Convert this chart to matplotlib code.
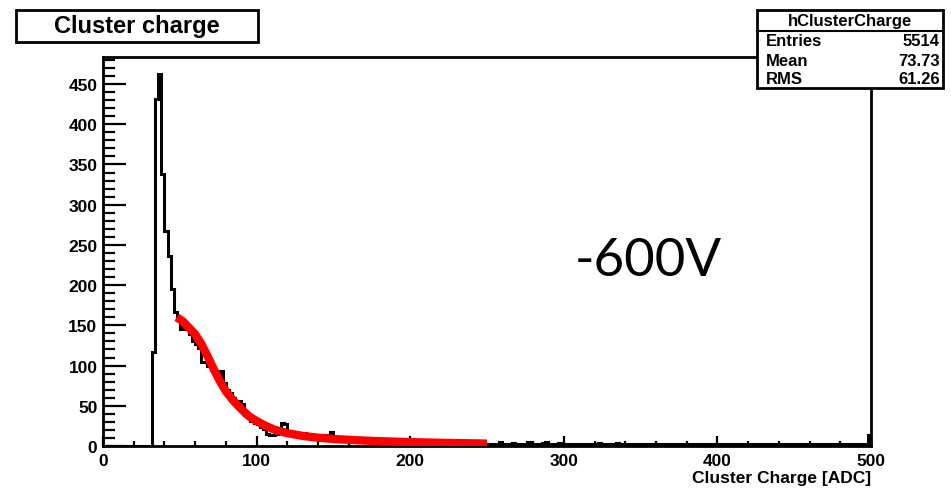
import numpy as np
import matplotlib.pyplot as plt
from matplotlib.patches import Rectangle
from matplotlib.lines import Line2D
from matplotlib.ticker import MultipleLocator

# histogram hClusterCharge: 250 bins of width 2 from 0 to 500
bin_edges = np.arange(0, 502, 2)
counts_low = [0] * 16  # 0 - 30
counts_peak = [117, 432, 462, 338, 267, 236, 195, 166, 158]  # 32 - 48
counts_mid = [146, 150, 146, 139, 131, 127, 122, 105, 104, 99,
              95, 88, 86, 93, 78, 70, 66, 60, 54, 56,
              52, 38, 36, 31, 29, 27, 24, 21, 15, 14,
              14, 15, 19, 28, 27, 16, 15, 17, 16, 15,
              16, 14, 15, 12, 11, 14, 13, 14, 13, 18, 9]  # 50 - 150
counts_tail1 = [8, 9, 7, 8, 7, 7, 6, 7, 6, 6,
                7, 5, 6, 5, 6, 5, 5, 6, 4, 5,
                5, 4, 5, 4, 5, 4, 4, 5, 3, 4,
                4, 3, 4, 4, 3, 4, 3, 3, 4, 3,
                3, 2, 3, 3, 2, 3, 3, 2, 3]  # 152 - 248
counts_tail2 = [3, 2, 3, 2, 5, 3, 2, 2, 4, 3,
                2, 2, 3, 5, 2, 3, 3, 2, 4, 5,
                3, 2, 2, 4, 3, 2, 3, 2, 3, 2,
                2, 2, 3, 2, 2, 2, 4, 3, 2, 2,
                2, 3, 4, 3, 2, 2, 2, 2, 3, 2,
                2, 1, 2, 2, 2, 3, 2, 2, 2, 1,
                2, 2, 2, 2, 3, 2, 1, 2, 2, 3,
                2, 2, 2, 1, 2, 2, 2, 3, 2, 1,
                2, 2, 2, 2, 2, 1, 2, 2, 2, 2,
                3, 2, 1, 2, 2, 2, 2, 1, 2, 2,
                2, 2, 1, 2, 2, 2, 3, 2, 2, 1,
                2, 2, 2, 2, 1, 2, 2, 2, 3, 2,
                2, 2, 1, 2, 14]  # 250 - 498
counts = counts_low + counts_peak + counts_mid + counts_tail1 + counts_tail2

# fit curve, points
fit_x = [48, 52, 56, 60, 64, 68, 72, 76, 80, 85, 90, 95, 100, 106, 112,
         120, 130, 140, 150, 165, 180, 200, 225, 250]
fit_y = [160, 155, 147, 139, 127, 112, 96, 81, 68, 56, 46, 37, 31, 25, 20,
         16, 12.5, 10.3, 8.7, 7.2, 6.0, 4.8, 3.8, 3.0]

W, H = 951, 489
fig = plt.figure(figsize=(W / 100, H / 100), dpi=100)
ax = fig.add_axes([103 / W, (H - 447) / H, 768 / W, (447 - 57.7) / H])

ax.stairs(counts, bin_edges, color='black', linewidth=2.2, baseline=0, zorder=2)
ax.plot(fit_x, fit_y, color='red', linewidth=6, solid_capstyle='butt',
        solid_joinstyle='round', zorder=3)

ax.set_xlim(0, 500)
ax.set_ylim(0, 484)

ax.xaxis.set_major_locator(MultipleLocator(100))
ax.xaxis.set_minor_locator(MultipleLocator(20))
ax.yaxis.set_major_locator(MultipleLocator(50))
ax.yaxis.set_minor_locator(MultipleLocator(10))
ax.tick_params(axis='both', which='both', direction='in', width=1.6,
               labelsize=12.5, top=False, right=False)
ax.tick_params(axis='y', which='major', length=16.5, pad=4)
ax.tick_params(axis='y', which='minor', length=8.5)
ax.tick_params(axis='x', which='major', length=7.2, pad=5)
ax.tick_params(axis='x', which='minor', length=3.6)
for lab in ax.get_xticklabels() + ax.get_yticklabels():
    lab.set_fontweight('bold')
    lab.set_fontfamily('Liberation Sans')
for sp in ax.spines.values():
    sp.set_linewidth(2)

fig.text(871 / W, (H - 479) / H, 'Cluster Charge [ADC]', ha='right', va='center',
         fontsize=12.5, fontweight='bold', family='Liberation Sans')

# title box
fig.patches.append(Rectangle((16 / W, (H - 43) / H), 242 / W, 32 / H,
                             transform=fig.transFigure, facecolor='white',
                             edgecolor='black', linewidth=2, zorder=5))
fig.text(137 / W, (H - 27) / H, 'Cluster charge', ha='center', va='center',
         fontsize=17, fontweight='bold', family='Liberation Sans', zorder=6)

# stats box
fig.patches.append(Rectangle((757 / W, (H - 89) / H), 186 / W, 78 / H,
                             transform=fig.transFigure, facecolor='white',
                             edgecolor='black', linewidth=2, zorder=5))
fig.lines.append(Line2D([757 / W, 943 / W], [(H - 31.5) / H] * 2,
                        transform=fig.transFigure, color='black',
                        linewidth=1.5, zorder=6))
stat_font = dict(fontsize=12, fontweight='bold', family='Liberation Sans', zorder=6)
fig.text(850 / W, (H - 21.5) / H, 'hClusterCharge', ha='center', va='center', **stat_font)
stat_names = ['Entries', 'Mean', 'RMS']
stat_values = ['5514', '73.73', '61.26']
stat_rows = [41.5, 61, 79.5]
for name, val, yy in zip(stat_names, stat_values, stat_rows):
    fig.text(766 / W, (H - yy) / H, name, ha='left', va='center', **stat_font)
    fig.text(940 / W, (H - yy) / H, val, ha='right', va='center', **stat_font)

fig.text(648 / W, (H - 261) / H, '-600V', ha='center', va='center',
         fontsize=38, family='Lato')

fig.savefig('out.png', dpi=100)
